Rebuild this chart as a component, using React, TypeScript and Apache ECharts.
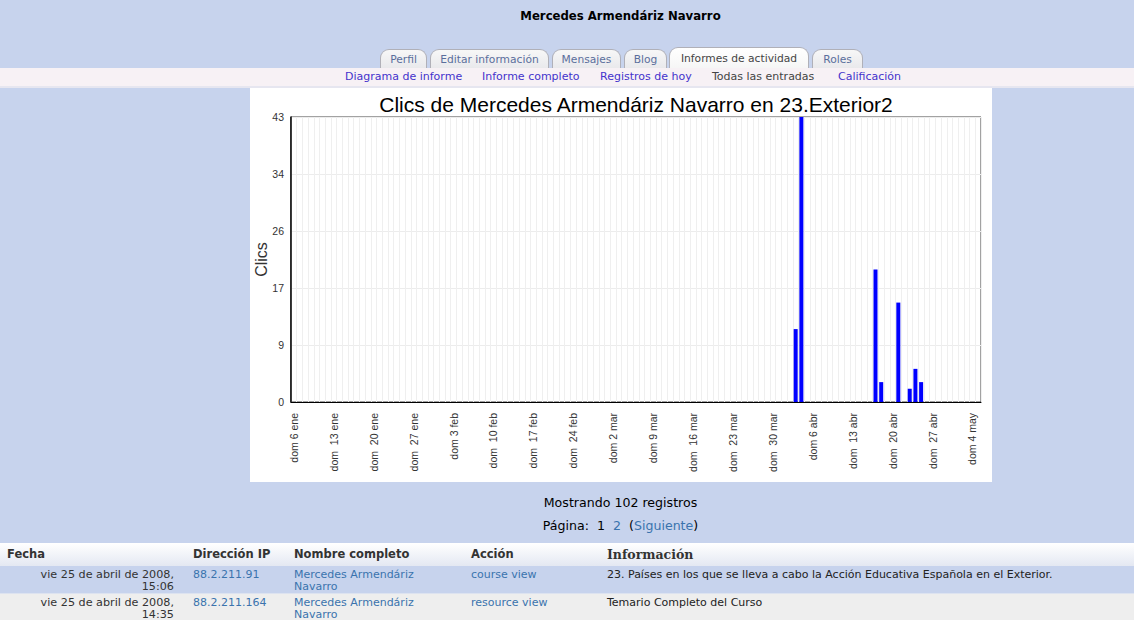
import React, { useEffect, useRef } from 'react';
import * as echarts from 'echarts';

// ---- data ----
const firstDayUTC = Date.UTC(2008, 0, 6); // dom 6 ene 2008
const dayCount = 121; // 6 ene .. 5 may
const monthAbbr = ['ene', 'feb', 'mar', 'abr', 'may', 'jun', 'jul', 'ago', 'sep', 'oct', 'nov', 'dic'];
const weekdayAbbr = ['dom', 'lun', 'mar', 'mié', 'jue', 'vie', 'sáb'];
const clickDates = ['2008-04-03', '2008-04-04', '2008-04-17', '2008-04-18', '2008-04-21', '2008-04-23', '2008-04-24', '2008-04-25'];
const clickCounts = [11, 43, 20, 3, 15, 2, 5, 3];
const yTickLabels = ['0', '9', '17', '26', '34', '43'];
const yMax = 43;
const chartTitle = 'Clics de Mercedes Armendáriz Navarro en 23.Exterior2';
const yAxisName = 'Clics';

const userName = 'Mercedes Armendáriz Navarro';
const tabLabels = ['Perfil', 'Editar información', 'Mensajes', 'Blog', 'Informes de actividad', 'Roles'];
const subNavLabels = ['Diagrama de informe', 'Informe completo', 'Registros de hoy', 'Todas las entradas', 'Calificación'];
const tableHeaders = ['Fecha', 'Dirección IP', 'Nombre completo', 'Acción', 'Información'];
const logRows = [
  ['vie 25 de abril de 2008,', '15:06', '88.2.211.91', 'Mercedes Armendáriz', 'Navarro', 'course view', '23. Países en los que se lleva a cabo la Acción Educativa Española en el Exterior.'],
  ['vie 25 de abril de 2008,', '14:35', '88.2.211.164', 'Mercedes Armendáriz', 'Navarro', 'resource view', 'Temario Completo del Curso'],
];

function buildDays(): string[] {
  const out: string[] = [];
  for (let i = 0; i < dayCount; i++) {
    out.push(new Date(firstDayUTC + i * 86400000).toISOString().slice(0, 10));
  }
  return out;
}

function dayLabel(value: string): string {
  const d = new Date(value + 'T00:00:00Z');
  const day = d.getUTCDate();
  return weekdayAbbr[d.getUTCDay()] + (day >= 10 ? ' \u00a0' : ' ') + day + ' ' + monthAbbr[d.getUTCMonth()];
}

const BG = '#c7d3ed';
const SANS = '"DejaVu Sans", Verdana, sans-serif';
const ARIAL = '"Liberation Sans", Arial, sans-serif';

// layout (page positions)
const tabX = [380, 430, 552, 624, 669, 812];
const tabW = [47, 119, 69, 43, 140, 51];
const subNavX = [345, 482, 600, 712, 838];
const headerX = [7, 193, 294, 471, 607];

function Chart() {
  const ref = useRef<HTMLDivElement>(null);
  useEffect(() => {
    if (!ref.current) return;
    const chart = echarts.init(ref.current, undefined, { renderer: 'svg' });
    const days = buildDays();
    const values = days.map((d) => {
      const k = clickDates.indexOf(d);
      return k >= 0 ? clickCounts[k] : 0;
    });
    const gridLeft = 41, gridTop = 29, gridW = 690, gridH = 285;
    chart.setOption({
      animation: false,
      backgroundColor: '#ffffff',
      grid: {
        left: gridLeft, top: gridTop, width: gridW, height: gridH,
        containLabel: false, outerBoundsMode: 'none',
        show: true, borderColor: '#444', borderWidth: 1, backgroundColor: 'transparent',
      },
      graphic: [
        {
          type: 'text',
          x: gridLeft + gridW / 2,
          y: 16,
          style: {
            text: chartTitle,
            fill: '#000',
            font: '21px "Liberation Sans", Arial, sans-serif',
            textAlign: 'center',
            textVerticalAlign: 'middle',
          },
        },
      ],
      xAxis: {
        type: 'category',
        data: days,
        boundaryGap: true,
        axisLine: { show: true, lineStyle: { color: '#000', width: 1 } },
        axisTick: { show: false },
        splitLine: { show: true, interval: 0, lineStyle: { color: '#efefef', width: 1 } },
        axisLabel: {
          interval: (i: number) => i % 7 === 0,
          rotate: 90,
          margin: 11,
          fontSize: 10.5,
          color: '#333',
          fontFamily: ARIAL,
          formatter: (v: string) => dayLabel(v),
        },
      },
      yAxis: {
        type: 'value',
        min: 0,
        max: yMax,
        interval: yMax / 5,
        name: yAxisName,
        nameLocation: 'middle',
        nameGap: 22,
        nameMoveOverlap: false,
        nameTextStyle: { fontSize: 16, color: '#333', fontFamily: ARIAL },
        axisLine: { show: true, lineStyle: { color: '#000', width: 1.5 } },
        axisTick: { show: false },
        splitLine: { show: true, lineStyle: { color: '#ececec', width: 1 } },
        axisLabel: {
          margin: 7,
          fontSize: 10.5,
          color: '#333',
          fontFamily: ARIAL,
          formatter: (_v: number, idx: number) => yTickLabels[idx] ?? '',
        },
      },
      series: [
        {
          type: 'bar',
          data: values,
          barWidth: 4,
          itemStyle: { color: '#0000ff' },
        },
      ],
    });
    return () => chart.dispose();
  }, []);
  return <div ref={ref} style={{ position: 'absolute', left: 250, top: 88, width: 742, height: 394 }} />;
}

export default function App() {
  const abs = (left: number, top: number, extra: React.CSSProperties = {}): React.CSSProperties => ({
    position: 'absolute', left, top, whiteSpace: 'nowrap', ...extra,
  });
  const linkColor = '#3a73ad';
  return (
    <div style={{ position: 'absolute', left: 0, top: 0, width: 1134, height: 620, background: BG, overflow: 'hidden', fontFamily: SANS }}>
      {/* heading */}
      <div style={abs(0, 9, { width: 1241, textAlign: 'center', fontWeight: 'bold', fontSize: 11.7, color: '#000' })}>{userName}</div>

      {/* tabs */}
      {tabLabels.map((t, i) => {
        const active = i === 4;
        return (
          <div key={t} style={{
            position: 'absolute', left: tabX[i], top: active ? 47 : 49, width: tabW[i], height: active ? 21 : 19,
            boxSizing: 'border-box', border: '1px solid #b0b0b8', borderBottom: 'none',
            borderRadius: '9px 9px 0 0',
            background: active ? 'linear-gradient(#ffffff, #f6f6f6)' : 'linear-gradient(#f7f7f7, #e9e9ec)',
            fontSize: 10.7, lineHeight: active ? '21px' : '19px', textAlign: 'center',
            color: active ? '#444' : '#5a6e9c', whiteSpace: 'nowrap',
          }}>{t}</div>
        );
      })}

      {/* sub navigation */}
      <div style={{ position: 'absolute', left: 0, top: 68, width: 1134, height: 18, background: '#f7f1f5', borderBottom: '2px solid #e6e6f0' }} />
      {subNavLabels.map((t, i) => (
        <div key={t} style={abs(subNavX[i], 70, { fontSize: 11, color: i === 3 ? '#444' : '#4433cc' })}>{t}</div>
      ))}

      <Chart />

      {/* paging */}
      <div style={abs(0, 495, { width: 1241, textAlign: 'center', fontSize: 12.6, color: '#000' })}>Mostrando 102 registros</div>
      <div style={abs(0, 518, { width: 1241, textAlign: 'center', fontSize: 12.6, color: '#000' })}>
        Página:&nbsp; 1&nbsp; <span style={{ color: linkColor }}>2</span>&nbsp; (<span style={{ color: linkColor }}>Siguiente</span>)
      </div>

      {/* table */}
      <div style={{ position: 'absolute', left: 0, top: 543, width: 1134, height: 23, background: 'linear-gradient(#ffffff, #e4e8f2)' }} />
      {tableHeaders.map((h, i) => (
        <div key={h} style={abs(headerX[i], 547, {
          fontSize: i === 4 ? 12.5 : 11.5, fontWeight: 'bold', color: '#333',
          fontFamily: i === 4 ? '"DejaVu Serif", Georgia, serif' : SANS,
        })}>{h}</div>
      ))}
      {logRows.map((r, k) => {
        const top = 566 + k * 28;
        return (
          <React.Fragment key={k}>
            <div style={{ position: 'absolute', left: 0, top, width: 1134, height: 27, background: k === 0 ? BG : '#eeeeee', borderBottom: '1px solid #dde3f0' }} />
            <div style={abs(0, top + 3, { width: 174, textAlign: 'right', fontSize: 11.2, lineHeight: '12px', color: '#333' })}>
              {r[0]}<br />{r[1]}
            </div>
            <div style={abs(193, top + 3, { fontSize: 11, lineHeight: '12px', color: linkColor })}>{r[2]}</div>
            <div style={abs(294, top + 3, { fontSize: 11, lineHeight: '12px', color: linkColor })}>{r[3]}<br />{r[4]}</div>
            <div style={abs(471, top + 3, { fontSize: 11, lineHeight: '12px', color: linkColor })}>{r[5]}</div>
            <div style={abs(607, top + 3, { fontSize: 11, lineHeight: '12px', color: '#222' })}>{r[6]}</div>
          </React.Fragment>
        );
      })}
    </div>
  );
}
